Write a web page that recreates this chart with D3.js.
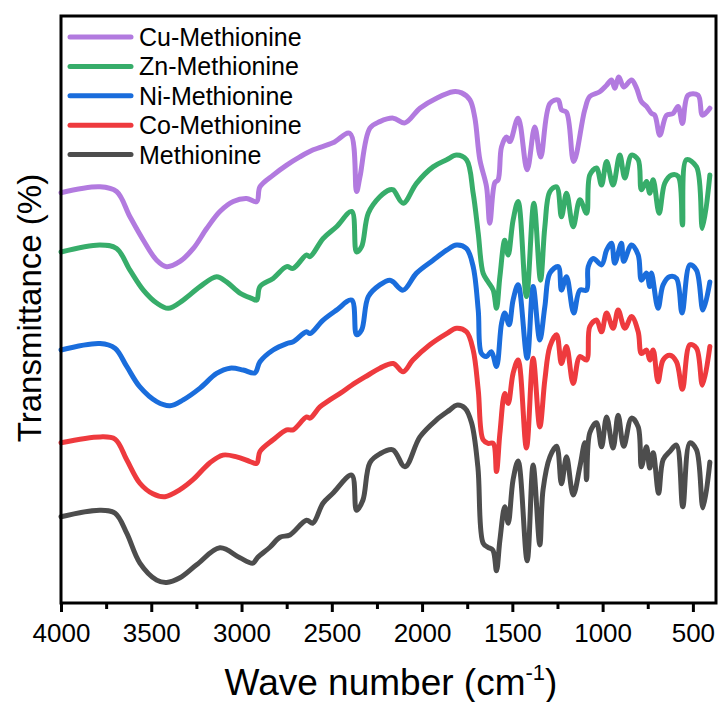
<!DOCTYPE html>
<html lang="en">
<head>
  <meta charset="UTF-8">
  <title>FTIR spectra</title>
  <style>
    body { margin: 0; background: #fff; }
    svg { display: block; font-family: "Liberation Sans", Arial, sans-serif; }
  </style>
</head>
<body>
  <div class="warp"></div>
  <script src="https://cdn.jsdelivr.net/npm/d3@7"></script>
  <script>
    // [wave number, transmittance (offset, a.u.)]
    var cuMet = [[4000,69.9],[3784,70.9],[3692,70.1],[3618,65.8],[3544,61.8],[3470,58.4],[3415,57.3],[3341,58.2],[3267,60.4],[3193,63.8],[3120,66.7],[3046,68.4],[2972,68.9],[2916,68.4],[2898,70.9],[2825,72.9],[2750,74.6],[2677,76.0],[2603,77.2],[2494,78.4],[2400,80.0],[2363,70.1],[2344,72.6],[2289,80.9],[2234,82.0],[2160,82.6],[2095,81.8],[2012,84.3],[1920,86.0],[1828,87.1],[1781,86.9],[1735,85.7],[1708,82.7],[1680,75.5],[1643,70.9],[1625,64.7],[1597,71.6],[1579,72.1],[1560,77.7],[1532,79.4],[1514,78.6],[1468,82.6],[1418,73.8],[1376,81.1],[1343,76.0],[1292,85.1],[1246,85.7],[1228,84.0],[1200,83.6],[1160,75.2],[1099,84.0],[1071,86.3],[1016,87.1],[978,88.2],[951,89.1],[933,87.7],[910,89.6],[883,87.9],[840,89.1],[812,87.7],[785,85.4],[757,84.6],[729,83.4],[711,83.1],[683,79.7],[646,83.1],[610,83.4],[582,84.6],[558,81.7],[527,86.5],[471,86.5],[447,83.1],[406,84.3]];
    var znMet = [[4000,59.8],[3784,61.0],[3692,60.4],[3618,56.7],[3544,53.3],[3470,51.1],[3406,50.2],[3323,51.6],[3230,53.9],[3138,55.6],[3083,54.7],[3009,52.8],[2944,51.9],[2916,51.6],[2898,53.9],[2825,55.3],[2750,57.3],[2714,57.0],[2640,59.3],[2621,59.0],[2548,62.1],[2474,64.1],[2390,66.7],[2363,59.8],[2335,60.7],[2298,66.4],[2234,69.2],[2178,70.4],[2160,70.4],[2105,68.1],[2031,71.5],[1939,74.3],[1864,75.5],[1809,76.3],[1754,75.5],[1717,69.8],[1689,63.0],[1662,56.2],[1634,54.7],[1606,53.3],[1588,50.2],[1569,55.6],[1542,61.8],[1523,59.3],[1496,65.2],[1468,68.4],[1422,52.2],[1381,68.1],[1344,55.0],[1320,64.1],[1292,70.1],[1255,70.9],[1228,65.8],[1200,69.8],[1163,64.1],[1126,68.7],[1089,66.4],[1071,72.9],[1034,74.1],[1006,71.2],[978,75.2],[942,71.2],[905,76.3],[877,72.4],[840,76.3],[803,75.5],[785,70.4],[757,71.8],[739,69.8],[720,72.1],[687,66.4],[656,71.5],[619,72.9],[582,72.7],[558,64.4],[536,75.5],[480,74.3],[447,63.8],[406,72.9]];
    var niMet = [[4000,43.1],[3784,44.2],[3701,43.4],[3636,40.3],[3563,36.8],[3470,34.3],[3396,33.6],[3323,34.6],[3230,36.6],[3138,39.1],[3064,40.0],[2991,39.7],[2926,39.2],[2898,41.1],[2825,43.1],[2750,44.2],[2714,44.5],[2640,46.2],[2621,45.9],[2548,48.2],[2474,49.9],[2390,51.6],[2363,45.7],[2335,46.5],[2298,52.2],[2234,54.2],[2178,55.0],[2160,54.7],[2105,53.3],[2031,56.2],[1939,58.4],[1864,60.1],[1809,61.0],[1754,60.4],[1717,57.3],[1689,49.9],[1671,42.5],[1643,42.0],[1616,42.8],[1588,40.3],[1560,47.6],[1542,49.4],[1518,47.4],[1496,51.6],[1468,54.2],[1418,41.7],[1385,53.9],[1348,44.8],[1320,50.5],[1292,56.2],[1246,57.3],[1228,53.3],[1200,55.6],[1160,49.4],[1126,53.3],[1089,53.3],[1080,57.3],[1052,58.7],[1006,57.6],[978,60.1],[951,61.3],[933,57.9],[896,61.3],[883,58.2],[840,61.0],[803,59.3],[785,55.0],[757,56.2],[739,53.9],[729,56.2],[693,50.2],[665,54.2],[628,55.6],[591,55.3],[560,49.4],[517,57.6],[480,56.7],[444,49.9],[406,54.7]];
    var coMet = [[4000,27.3],[3784,28.3],[3700,27.9],[3636,24.4],[3563,20.4],[3491,18.6],[3424,18.1],[3341,19.3],[3269,21.0],[3175,23.9],[3103,25.2],[3027,24.9],[2953,24.1],[2916,23.8],[2898,25.8],[2825,27.8],[2750,29.5],[2714,29.5],[2640,31.7],[2621,31.5],[2566,33.4],[2511,34.6],[2450,35.8],[2390,37.1],[2300,38.8],[2234,40.0],[2160,40.8],[2105,39.4],[2051,41.4],[1957,44.0],[1864,45.9],[1809,46.8],[1754,46.2],[1717,43.1],[1689,36.3],[1662,27.8],[1634,27.2],[1606,27.2],[1588,22.4],[1569,28.9],[1542,35.7],[1523,34.0],[1496,39.1],[1468,41.4],[1422,26.4],[1385,41.7],[1348,30.0],[1320,38.0],[1292,43.7],[1255,45.7],[1228,40.8],[1200,43.7],[1163,37.4],[1126,42.0],[1089,41.4],[1071,47.1],[1034,48.2],[1006,46.2],[978,49.4],[942,46.8],[914,49.9],[877,46.8],[840,48.8],[803,46.2],[785,42.5],[757,43.1],[739,41.4],[720,43.1],[693,37.7],[665,41.4],[628,42.2],[591,41.1],[558,36.4],[517,44.0],[480,43.4],[447,37.1],[406,43.7]];
    var met = [[4000,14.7],[3784,15.8],[3700,15.3],[3636,11.9],[3563,6.8],[3470,3.9],[3415,3.5],[3341,4.3],[3249,6.5],[3120,9.4],[3009,7.7],[2937,6.8],[2910,7.8],[2843,9.5],[2787,11.2],[2732,11.6],[2640,14.1],[2605,13.6],[2549,17.0],[2494,18.7],[2390,21.8],[2363,15.8],[2328,17.5],[2289,23.9],[2234,25.4],[2162,26.1],[2095,23.2],[2012,28.3],[1920,31.2],[1846,32.9],[1809,33.7],[1763,33.2],[1726,30.7],[1691,23.2],[1662,10.2],[1636,9.5],[1608,9.0],[1588,5.5],[1569,10.7],[1542,16.4],[1523,13.6],[1496,21.0],[1468,24.2],[1418,7.2],[1385,23.5],[1348,9.9],[1330,19.3],[1292,24.9],[1255,26.7],[1228,20.3],[1200,24.9],[1163,18.4],[1126,23.2],[1099,27.3],[1089,21.0],[1071,29.0],[1034,30.7],[1006,26.6],[978,31.7],[942,26.4],[914,32.0],[883,26.7],[840,31.5],[803,30.0],[785,23.2],[757,26.6],[739,23.0],[720,25.6],[690,18.7],[665,24.4],[628,25.8],[591,26.9],[556,16.4],[517,27.3],[480,26.1],[444,16.2],[406,24.0]];

    var names = ['Cu-Methionine', 'Zn-Methionine', 'Ni-Methionine', 'Co-Methionine', 'Methionine'];
    var spectra = [cuMet, znMet, niMet, coMet, met];
    var colors = ['#b27adf', '#37ad6a', '#1a6ddc', '#ee3a3e', '#4d4d4d'];
    var xTicks = [4000, 3500, 3000, 2500, 2000, 1500, 1000, 500];
    var xMinor = [3750, 3250, 2750, 2250, 1750, 1250, 750];

    var W = 720, H = 702;
    var m = {left: 61, right: 716, top: 16, bottom: 603};

    var svg = d3.select('.warp').append('svg')
      .attr('width', W)
      .attr('height', H);

    var x = d3.scaleLinear().domain([4000, 372]).range([m.left, m.right]);
    var y = d3.scaleLinear().domain([0, 100]).range([m.bottom, m.top]);

    var line = d3.line()
      .x(function(d) { return x(d[0]); })
      .y(function(d) { return y(d[1]); })
      .curve(d3.curveCatmullRom.alpha(0.5));

    // draw bottom series first so upper ones sit on top
    for (var k = spectra.length - 1; k >= 0; k--) {
      svg.append('path')
        .datum(spectra[k])
        .attr('d', line)
        .attr('fill', 'none')
        .attr('stroke', colors[k])
        .attr('stroke-width', 5)
        .attr('stroke-linejoin', 'round')
        .attr('stroke-linecap', 'round');
    }

    // x axis ticks
    var axis = d3.axisBottom(x).tickValues(xTicks).tickSize(9).tickPadding(12)
      .tickFormat(d3.format('d'));
    var gx = svg.append('g')
      .attr('transform', 'translate(0,' + m.bottom + ')')
      .call(axis);
    gx.select('.domain').remove();
    gx.selectAll('.tick line').attr('stroke', '#000').attr('stroke-width', 3);
    gx.selectAll('.tick text')
      .attr('fill', '#000')
      .style('font-size', '26px')
      .attr('font-family', '"Liberation Sans", Arial, sans-serif');

    var minor = d3.axisBottom(x).tickValues(xMinor).tickSize(6).tickFormat('');
    var gm = svg.append('g')
      .attr('transform', 'translate(0,' + m.bottom + ')')
      .call(minor);
    gm.select('.domain').remove();
    gm.selectAll('.tick line').attr('stroke', '#000').attr('stroke-width', 3);

    // frame
    svg.append('rect')
      .attr('x', m.left)
      .attr('y', m.top)
      .attr('width', m.right - m.left)
      .attr('height', m.bottom - m.top)
      .attr('fill', 'none')
      .attr('stroke', '#000')
      .attr('stroke-width', 3);

    // axis titles
    var xt = svg.append('text')
      .attr('x', 391)
      .attr('y', 695)
      .attr('text-anchor', 'middle')
      .style('font-size', '37px');
    xt.append('tspan').text('Wave number (cm');
    xt.append('tspan').attr('dy', -15).style('font-size', '22px').text('-1');
    xt.append('tspan').attr('dy', 15).text(')');

    svg.append('text')
      .attr('transform', 'translate(41,308) rotate(-90)')
      .attr('text-anchor', 'middle')
      .style('font-size', '33px')
      .text('Transmittance (%)');

    // legend
    var lg = svg.append('g');
    names.forEach(function(n, i) {
      var ly = 37 + i * 29.4;
      lg.append('line')
        .attr('x1', 70).attr('x2', 131)
        .attr('y1', ly).attr('y2', ly)
        .attr('stroke', colors[i])
        .attr('stroke-width', 5)
        .attr('stroke-linecap', 'round');
      lg.append('text')
        .attr('x', 139)
        .attr('y', ly + 9)
        .style('font-size', '25px')
        .text(n);
    });
  </script>
</body>
</html>
